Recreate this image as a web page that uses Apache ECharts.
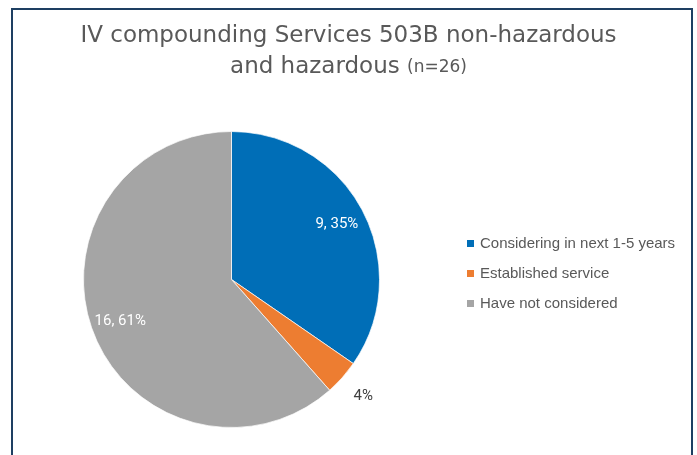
<!DOCTYPE html>
<html><head><meta charset="utf-8">
<script src="https://cdn.jsdelivr.net/npm/echarts@6/dist/echarts.min.js"></script>
<style>html,body{margin:0;padding:0;background:#fff}#c{width:697px;height:455px}</style>
</head><body><div id="c"></div>
<script>
const categories = ['Considering in next 1-5 years', 'Established service', 'Have not considered'];
const values = [9, 1, 16];
const percentLabels = ['35%', '4%', '61%'];
const colors = ['#006EB7', '#ED7D31', '#A5A5A5'];

const chart = echarts.init(document.getElementById('c'), null, {renderer: 'canvas'});
const baseData = categories.map((n, i) => ({name: n, value: values[i], itemStyle: {color: colors[i]}}));
const center = [231.5, 279.5];

chart.setOption({
  animation: false,
  backgroundColor: '#fff',
  graphic: [{
    type: 'rect', shape: {x: 12, y: 9, width: 680, height: 500},
    style: {fill: 'none', stroke: '#1E3F62', lineWidth: 2}, silent: true
  }],
  title: {
    text: 'IV compounding Services 503B non-hazardous\nand hazardous {s|(n=26)}',
    left: 'center', top: 16,
    textStyle: {
      fontFamily: 'DejaVu Sans', fontSize: 23, fontWeight: 'normal', color: '#595959', lineHeight: 31,
      rich: {s: {fontFamily: 'DejaVu Sans', fontSize: 17, color: '#595959', lineHeight: 31}}
    }
  },
  legend: {
    orient: 'vertical', left: 465, top: 236, padding: 0,
    itemWidth: 9, itemHeight: 9, itemGap: 15,
    icon: 'rect',
    data: categories,
    textStyle: {fontFamily: 'Liberation Sans', fontSize: 15, color: '#595959'}
  },
  series: [
    {
      type: 'pie', center: center, radius: [0, 148], startAngle: 90, clockwise: true,
      data: baseData,
      itemStyle: {borderColor: '#fff', borderWidth: 0.7},
      label: {show: false}, labelLine: {show: false}, silent: true
    },
    {
      type: 'pie', center: center, radius: [84, 148], startAngle: 90, clockwise: true,
      data: categories.map((n, i) => ({
        name: n, value: values[i],
        label: {show: i !== 1, formatter: values[i] + ', ' + percentLabels[i]}
      })),
      itemStyle: {color: 'rgba(0,0,0,0)'},
      label: {position: 'inside', color: '#fff', fontFamily: 'Roboto', fontSize: 15},
      labelLine: {show: false}, silent: true, legendHoverLink: false
    },
    {
      type: 'pie', center: center, radius: [158, 188], startAngle: 90, clockwise: true,
      data: categories.map((n, i) => ({
        name: n, value: values[i],
        label: {show: i === 1, formatter: percentLabels[i]}
      })),
      itemStyle: {color: 'rgba(0,0,0,0)'},
      label: {position: 'inside', color: '#404040', fontFamily: 'Roboto', fontSize: 15},
      labelLine: {show: false}, silent: true, legendHoverLink: false
    }
  ]
});
</script></body></html>
